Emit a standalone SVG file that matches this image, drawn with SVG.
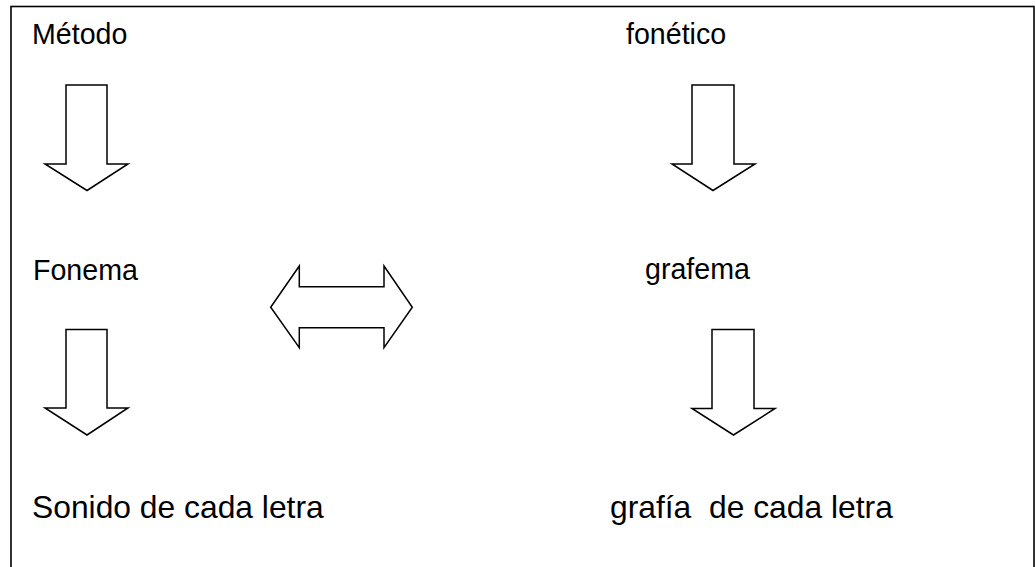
<svg xmlns="http://www.w3.org/2000/svg" width="1035" height="567" viewBox="0 0 1035 567">
<style>
.t{font-family:"Liberation Sans",Arial,sans-serif;fill:#000;white-space:pre}
.s{font-size:28.6px}
.b{font-size:31.8px}
.ar{fill:#fff;stroke:#000;stroke-width:1.5;stroke-linejoin:miter}
</style>
<rect x="0" y="0" width="1035" height="567" fill="#fff"/>
<rect id="frame" x="11" y="6.5" width="1023" height="580" fill="none" stroke="#000" stroke-width="1.6"/>
<g id="n-metodo"><text class="t s" x="32" y="44">Método</text></g>
<g id="n-fonetico"><text class="t s" x="626" y="44">fonético</text></g>
<g id="n-fonema"><text class="t s" x="33" y="280">Fonema</text></g>
<g id="n-grafema"><text class="t s" x="645" y="279">grafema</text></g>
<g id="n-sonido"><text class="t b" x="32" y="518">Sonido de cada letra</text></g>
<g id="n-grafia"><text class="t b" x="610" y="518">grafía  de cada letra</text></g>
<g id="connectors">
<path class="ar" d="M66,85 H107 V164 H128 L87,190.5 L45,164 H66 Z"/>
<path class="ar" d="M692,85 H734 V164 H755 L713,190.5 L672,164 H692 Z"/>
<path class="ar" d="M66,329.5 H107 V408 H128 L87,435 L45,408 H66 Z"/>
<path class="ar" d="M712,329.5 H754 V408.5 H775 L733.5,435 L692,408.5 H712 Z"/>
<path class="ar" d="M270.7,307.3 L299.3,266 V286.7 H384 V266 L412.3,307.3 L384,347.7 V327.7 H299.3 V347.7 Z"/>
</g>
</svg>
